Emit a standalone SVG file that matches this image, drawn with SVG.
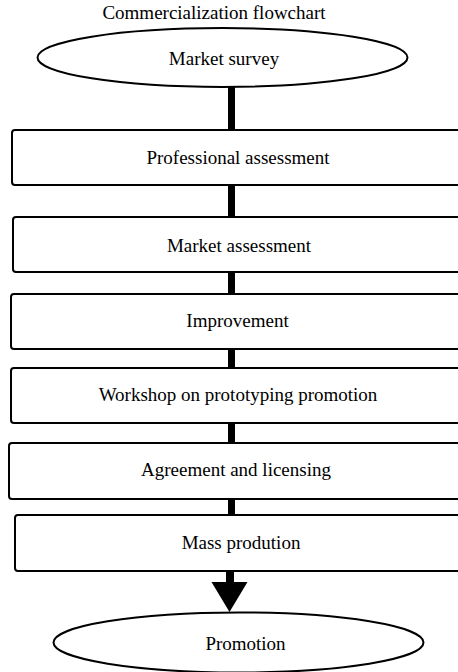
<svg xmlns="http://www.w3.org/2000/svg" width="458" height="672" viewBox="0 0 458 672">
<style>
  .n { fill: #fff; stroke: #000; stroke-width: 2; }
  .t { font-family: "Liberation Serif", "Times New Roman", serif; font-size: 19px; fill: #000; text-anchor: middle; }
  .c { fill: #000; stroke: none; }
</style>
<rect width="458" height="672" fill="#fff"/>
<text class="t" x="214" y="18.5">Commercialization flowchart</text>
<g id="connectors">
  <rect class="c" x="228" y="87" width="7" height="43"/>
  <rect class="c" x="228" y="185" width="7" height="32"/>
  <rect class="c" x="228" y="272" width="7" height="22"/>
  <rect class="c" x="228" y="349" width="7" height="19"/>
  <rect class="c" x="228" y="423" width="7" height="20"/>
  <rect class="c" x="228" y="499" width="7" height="16"/>
  <rect class="c" x="226" y="571" width="8" height="12"/>
  <polygon class="c" points="211.5,582 247.5,582 229.5,612"/>
</g>
<g id="market-survey">
  <ellipse class="n" cx="222.5" cy="57.5" rx="185" ry="29.5"/>
  <text class="t" x="224" y="64.5">Market survey</text>
</g>
<g id="professional-assessment">
  <rect class="n" x="12" y="130" width="460" height="55" rx="3"/>
  <text class="t" x="238" y="163.5">Professional assessment</text>
</g>
<g id="market-assessment">
  <rect class="n" x="13" y="217" width="460" height="55" rx="3"/>
  <text class="t" x="239" y="251.5">Market assessment</text>
</g>
<g id="improvement">
  <rect class="n" x="11" y="294" width="460" height="55" rx="3"/>
  <text class="t" x="237.5" y="326.5">Improvement</text>
</g>
<g id="workshop">
  <rect class="n" x="11" y="368" width="460" height="55" rx="3"/>
  <text class="t" x="238" y="401">Workshop on prototyping promotion</text>
</g>
<g id="agreement">
  <rect class="n" x="9" y="443" width="460" height="56" rx="3"/>
  <text class="t" x="236" y="475.5">Agreement and licensing</text>
</g>
<g id="mass-production">
  <rect class="n" x="15" y="515" width="460" height="56" rx="3"/>
  <text class="t" x="241" y="548.5">Mass prodution</text>
</g>
<g id="promotion">
  <ellipse class="n" cx="238.5" cy="642.5" rx="185" ry="30"/>
  <text class="t" x="245.5" y="650">Promotion</text>
</g>
</svg>
